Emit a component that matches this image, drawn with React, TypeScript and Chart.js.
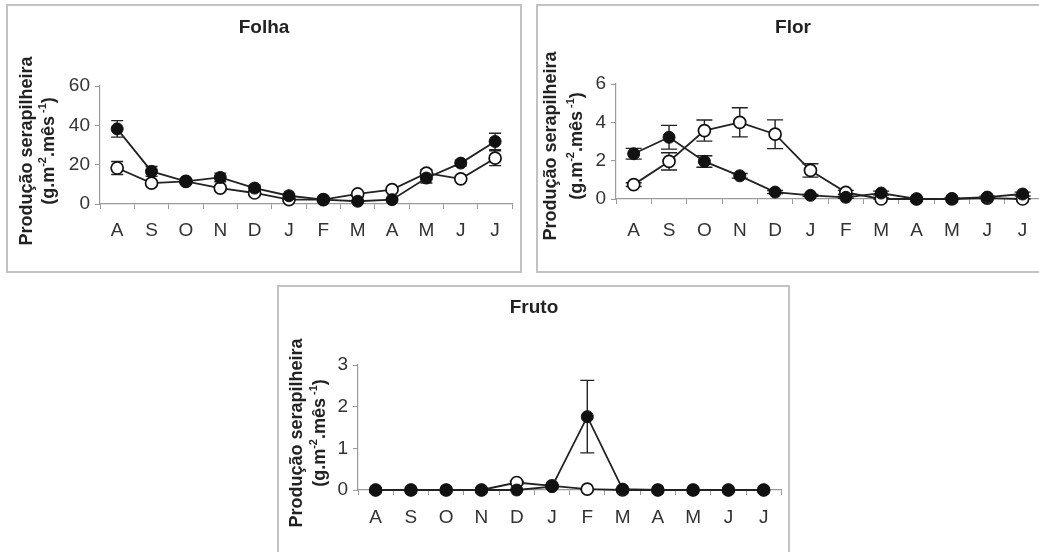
import React, { useEffect, useRef } from "react";
import { Chart, registerables } from "chart.js";

Chart.register(...registerables);

const FONT = '"Liberation Sans", Arial, Helvetica, sans-serif';

// Categories (months, Aug -> Jul)
const months = ["A", "S", "O", "N", "D", "J", "F", "M", "A", "M", "J", "J"];

// Folha (leaf)
const folhaFilled = [38.2, 16.6, 11.5, 13.5, 8.1, 4.2, 2.2, 1.4, 2.2, 13.2, 20.8, 31.8];
const folhaFilledErr = [4.2, 2.5, 1.2, 2.2, 1.5, 1.0, 0.5, 0.4, 0.6, 2.5, 1.5, 4.2];
const folhaOpen = [18.3, 10.6, 11.5, 8.1, 5.6, 2.2, 2.2, 5.1, 7.3, 15.7, 12.8, 23.3];
const folhaOpenErr = [3.3, 1.2, 1.0, 1.2, 0.8, 0.5, 0.5, 0.8, 1.0, 1.8, 1.2, 3.8];
const folhaTicks = { max: 60, step: 20 };

// Flor (flower)
const florFilled = [2.36, 3.22, 1.96, 1.21, 0.36, 0.19, 0.09, 0.31, 0.0, 0.02, 0.1, 0.26];
const florFilledErr = [0.28, 0.62, 0.3, 0.12, 0.08, 0.05, 0.05, 0.1, 0.0, 0.02, 0.05, 0.1];
const florOpen = [0.75, 1.96, 3.57, 4.0, 3.38, 1.49, 0.35, 0.0, 0.0, 0.0, 0.05, 0.0];
const florOpenErr = [0.1, 0.45, 0.55, 0.76, 0.75, 0.35, 0.1, 0.05, 0.0, 0.0, 0.02, 0.02];
const florTicks = { max: 6, step: 2 };

// Fruto (fruit)
const frutoFilled = [0, 0, 0, 0, 0, 0.08, 1.76, 0.02, 0, 0, 0, 0];
const frutoFilledErr = [0, 0, 0, 0, 0, 0.03, 0.87, 0.01, 0, 0, 0, 0];
const frutoOpen = [0, 0, 0, 0, 0.18, 0.1, 0.02, 0, 0, 0, 0, 0];
const frutoOpenErr = [0, 0, 0, 0, 0.03, 0.02, 0.01, 0, 0, 0, 0, 0];
const frutoTicks = { max: 3, step: 1 };

const yTitleLine1 = "Produção serapilheira";
const yTitleLine2 = [
  { t: "(g.m", sup: false },
  { t: "-2", sup: true },
  { t: ".mês", sup: false },
  { t: " -1", sup: true },
  { t: ")", sup: false },
];

const errorBarPlugin = {
  id: "errorBars",
  beforeDatasetsDraw(chart: any, _args: any, opts: any) {
    const { ctx, scales } = chart;
    const x = scales.x;
    const y = scales.y;
    const cap = (opts && opts.cap) || 6;
    ctx.save();
    ctx.strokeStyle = "#222";
    ctx.lineWidth = 1.4;
    chart.data.datasets.forEach((ds: any) => {
      const errs = ds.errors as number[] | undefined;
      if (!errs) return;
      ds.data.forEach((v: number, j: number) => {
        const e = errs[j];
        if (!e) return;
        const px = x.getPixelForValue(j);
        const yt = y.getPixelForValue(v + e);
        const yb = y.getPixelForValue(Math.max(v - e, 0));
        ctx.beginPath();
        ctx.moveTo(px, yt);
        ctx.lineTo(px, yb);
        ctx.moveTo(px - cap, yt);
        ctx.lineTo(px + cap, yt);
        ctx.moveTo(px - cap, yb);
        ctx.lineTo(px + cap, yb);
        ctx.stroke();
      });
    });
    ctx.restore();
  },
};

const textPlugin = {
  id: "panelText",
  afterDraw(chart: any, _args: any, opts: any) {
    const { ctx } = chart;
    const w = chart.width;
    ctx.save();
    ctx.fillStyle = "#222";
    ctx.textAlign = "center";
    ctx.textBaseline = "middle";
    ctx.font = `bold 19px ${FONT}`;
    ctx.fillText(opts.title, w / 2, opts.titleY);
    ctx.restore();

    // y title line 1
    ctx.save();
    ctx.translate(opts.x1, opts.yc);
    ctx.rotate(-Math.PI / 2);
    ctx.fillStyle = "#222";
    ctx.textAlign = "center";
    ctx.textBaseline = "middle";
    ctx.font = `bold 18px ${FONT}`;
    ctx.fillText(yTitleLine1, 0, 0);
    ctx.restore();

    // y title line 2 with superscripts
    ctx.save();
    ctx.translate(opts.x2, opts.yc);
    ctx.rotate(-Math.PI / 2);
    ctx.fillStyle = "#222";
    ctx.textAlign = "left";
    ctx.textBaseline = "middle";
    const normal = `bold 18px ${FONT}`;
    const small = `bold 11px ${FONT}`;
    let total = 0;
    yTitleLine2.forEach((s) => {
      ctx.font = s.sup ? small : normal;
      total += ctx.measureText(s.t).width;
    });
    let cx = -total / 2;
    yTitleLine2.forEach((s) => {
      ctx.font = s.sup ? small : normal;
      ctx.fillText(s.t, cx, s.sup ? -6 : 0);
      cx += ctx.measureText(s.t).width;
    });
    ctx.restore();
  },
};

type PanelProps = {
  left: number;
  top: number;
  width: number;
  height: number;
  area: { left: number; right: number; top: number; bottom: number };
  filled: number[];
  filledErr: number[];
  open: number[];
  openErr: number[];
  ticks: { max: number; step: number };
  title: string;
  titleY: number;
  x1: number;
  x2: number;
  yc: number;
  xLabelPad: number;
  cap: number;
};

function Panel(p: PanelProps) {
  const ref = useRef<HTMLCanvasElement | null>(null);
  useEffect(() => {
    if (!ref.current) return;
    const axisColor = "#9a9a9a";
    const chart = new Chart(ref.current, {
      type: "line",
      data: {
        labels: months,
        datasets: [
          {
            data: p.filled,
            errors: p.filledErr,
            borderColor: "#222",
            borderWidth: 1.8,
            pointRadius: 6,
            pointBackgroundColor: "#111",
            pointBorderColor: "#111",
            pointBorderWidth: 1,
            tension: 0,
            clip: false,
          } as any,
          {
            data: p.open,
            errors: p.openErr,
            borderColor: "#222",
            borderWidth: 1.8,
            pointRadius: 6,
            pointBackgroundColor: "#fff",
            pointBorderColor: "#111",
            pointBorderWidth: 1.7,
            tension: 0,
            clip: false,
          } as any,
        ],
      },
      options: {
        responsive: false,
        animation: false,
        devicePixelRatio: 1,
        layout: {
          padding: {
            left: 0,
            top: p.area.top,
            right: p.width - p.area.right,
            bottom: 0,
          },
        },
        plugins: {
          legend: { display: false },
          tooltip: { enabled: false },
          title: { display: false },
          errorBars: { cap: p.cap },
          panelText: {
            title: p.title,
            titleY: p.titleY,
            x1: p.x1,
            x2: p.x2,
            yc: p.yc,
          },
        } as any,
        scales: {
          x: {
            type: "category",
            offset: true,
            grid: {
              display: true,
              drawOnChartArea: false,
              drawTicks: true,
              tickLength: 5,
              offset: true,
              color: axisColor,
              lineWidth: 1,
            },
            border: { display: true, color: axisColor, width: 1.2 },
            ticks: {
              color: "#333",
              font: { family: FONT, size: 19 },
              padding: p.xLabelPad,
              maxRotation: 0,
              autoSkip: false,
            },
            afterFit: (s: any) => {
              s.height = p.height - p.area.bottom;
            },
          },
          y: {
            min: 0,
            max: p.ticks.max,
            grid: {
              display: true,
              drawOnChartArea: false,
              drawTicks: true,
              tickLength: 5,
              color: axisColor,
            },
            border: { display: true, color: axisColor, width: 1.2 },
            ticks: {
              stepSize: p.ticks.step,
              color: "#333",
              font: { family: FONT, size: 19 },
              padding: 5,
            },
            afterFit: (s: any) => {
              s.width = p.area.left;
            },
          },
        },
      } as any,
      plugins: [errorBarPlugin, textPlugin],
    });
    return () => chart.destroy();
  }, []);
  return (
    <canvas
      ref={ref}
      width={p.width}
      height={p.height}
      style={{
        position: "absolute",
        left: p.left,
        top: p.top,
        width: p.width,
        height: p.height,
      }}
    />
  );
}

const borderStyle = (left: number, top: number, width: number, height: number): React.CSSProperties => ({
  position: "absolute",
  left,
  top,
  width,
  height,
  boxSizing: "border-box",
  border: "2px solid #c2c2c2",
  pointerEvents: "none",
});

export default function App() {
  return (
    <div
      style={{
        position: "fixed",
        left: 0,
        top: 0,
        width: 1039,
        height: 552,
        overflow: "hidden",
        background: "#fff",
      }}
    >
      <Panel
        left={8}
        top={6}
        width={512}
        height={265}
        area={{ left: 92, right: 512, top: 80, bottom: 198 }}
        filled={folhaFilled}
        filledErr={folhaFilledErr}
        open={folhaOpen}
        openErr={folhaOpenErr}
        ticks={folhaTicks}
        title="Folha"
        titleY={22}
        x1={19}
        x2={41}
        yc={145}
        xLabelPad={10}
        cap={6}
      />
      <Panel
        left={538}
        top={6}
        width={510}
        height={265}
        area={{ left: 78, right: 504, top: 78, bottom: 193 }}
        filled={florFilled}
        filledErr={florFilledErr}
        open={florOpen}
        openErr={florOpenErr}
        ticks={florTicks}
        title="Flor"
        titleY={22}
        x1={13}
        x2={39}
        yc={140}
        xLabelPad={15}
        cap={8}
      />
      <Panel
        left={279}
        top={287}
        width={510}
        height={265}
        area={{ left: 79, right: 506, top: 78, bottom: 203 }}
        filled={frutoFilled}
        filledErr={frutoFilledErr}
        open={frutoOpen}
        openErr={frutoOpenErr}
        ticks={frutoTicks}
        title="Fruto"
        titleY={21}
        x1={18}
        x2={41}
        yc={146}
        xLabelPad={11}
        cap={7}
      />
      <div style={borderStyle(6, 4, 516, 269)} />
      <div style={borderStyle(536, 4, 520, 269)} />
      <div style={borderStyle(277, 285, 513, 300)} />
    </div>
  );
}
